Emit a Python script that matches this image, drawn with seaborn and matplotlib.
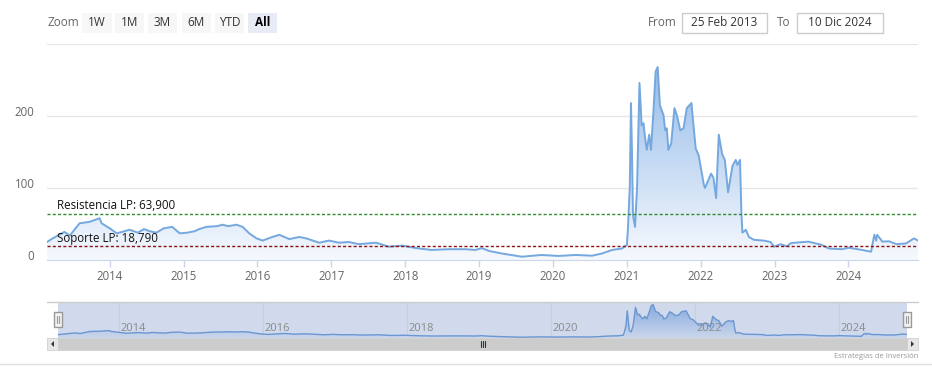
import numpy as np
import pandas as pd
import matplotlib
matplotlib.use("Agg")
import matplotlib.pyplot as plt
import matplotlib.dates as mdates
from matplotlib.patches import Rectangle, Polygon
from matplotlib.colors import LinearSegmentedColormap
from matplotlib.transforms import ScaledTranslation
import seaborn as sns

# price series
dates = [
    "2013-02-25", "2013-03-25", "2013-04-27", "2013-05-22", "2013-06-18", "2013-08-05",
    "2013-09-24", "2013-11-12", "2013-11-22", "2014-01-01", "2014-02-05", "2014-04-09",
    "2014-05-20", "2014-06-20", "2014-07-17", "2014-08-20", "2014-09-25", "2014-11-06",
    "2014-12-13", "2015-01-20", "2015-02-25", "2015-03-20", "2015-04-24", "2015-06-15",
    "2015-07-13", "2015-08-10", "2015-09-20", "2015-10-20", "2015-11-22", "2015-12-28",
    "2016-01-27", "2016-03-15", "2016-04-19", "2016-06-07", "2016-07-26", "2016-08-30",
    "2016-11-02", "2016-12-20", "2017-02-08", "2017-03-28", "2017-05-17", "2017-08-10",
    "2017-10-12", "2017-12-16", "2018-02-24", "2018-05-12", "2018-08-03", "2018-10-25",
    "2018-12-14", "2019-01-15", "2019-02-20", "2019-04-24", "2019-07-31", "2019-11-06",
    "2020-01-29", "2020-04-22", "2020-07-13", "2020-08-30", "2020-10-20", "2020-12-08",
    "2021-01-01", "2021-01-06", "2021-01-15", "2021-01-21", "2021-01-26", "2021-01-31",
    "2021-02-10", "2021-02-20", "2021-03-04", "2021-03-15", "2021-03-24", "2021-04-01",
    "2021-04-09", "2021-04-21", "2021-04-30", "2021-05-12", "2021-05-23", "2021-06-02",
    "2021-06-13", "2021-07-01", "2021-07-09", "2021-07-17", "2021-07-25", "2021-08-08",
    "2021-08-24", "2021-09-05", "2021-09-22", "2021-10-08", "2021-10-24", "2021-11-16",
    "2021-11-22", "2021-12-07", "2021-12-22", "2022-01-16", "2022-01-22", "2022-02-21",
    "2022-03-05", "2022-03-18", "2022-03-31", "2022-04-17", "2022-04-30", "2022-05-16",
    "2022-06-07", "2022-06-23", "2022-07-01", "2022-07-14", "2022-07-21", "2022-07-26",
    "2022-08-12", "2022-08-27", "2022-09-21", "2022-11-08", "2022-12-12", "2022-12-30",
    "2023-01-31", "2023-03-01", "2023-03-25", "2023-04-13", "2023-06-17", "2023-08-22",
    "2023-09-26", "2023-11-28", "2024-01-04", "2024-03-08", "2024-04-22", "2024-05-08",
    "2024-05-17", "2024-05-22", "2024-06-17", "2024-07-20", "2024-08-25", "2024-10-12",
    "2024-11-20", "2024-12-10",
]
prices = [
    25, 30, 35, 39, 34, 51,
    53, 58, 51, 44, 37, 42,
    38, 43, 40, 38, 44, 46,
    37, 38, 40, 43, 46, 47,
    49, 47, 49, 46, 37, 30,
    27, 32, 35, 29, 32, 30,
    24, 27, 24, 25, 22, 24,
    18.5, 20, 16.5, 14, 15, 15,
    14, 16.5, 12.5, 9, 4.6, 7,
    5.6, 7, 6, 9, 14, 16,
    21, 44, 100, 218, 150, 62,
    46, 100, 246, 187, 190, 169,
    153, 174, 153, 206, 262, 268,
    215, 201, 180, 183, 153, 162,
    211, 201, 180, 183, 211, 218,
    199, 155, 145, 105, 100, 120,
    114, 86, 174, 147, 139, 94,
    131, 139, 132, 139, 65, 38,
    42, 32, 28, 27, 25, 18.5,
    22, 19, 23.6, 24, 25.5, 21,
    16, 15, 17, 14, 11.5, 35,
    27, 35, 25.5, 26, 22, 23,
    30, 27,
]

resistance = 63.9
support = 18.79
resistance_label = "Resistencia LP: 63,900"
support_label = "Soporte LP: 18,790"
y_ticks = [0, 100, 200, 300]
y_tick_labels = ["0", "100", "200", ""]
year_ticks = list(range(2014, 2025))
nav_years = [2014, 2016, 2018, 2020, 2022, 2024]
zoom_buttons = ["1W", "1M", "3M", "6M", "YTD", "All"]
date_from = "25 Feb 2013"
date_to = "10 Dic 2024"
credits = "Estrategias de Inversión"

df = pd.DataFrame({"date": pd.to_datetime(dates), "price": prices})

sns.set_style("white")
plt.rcParams["font.family"] = ["Open Sans", "DejaVu Sans"]

W, H = 932, 379
fig = plt.figure(figsize=(W / 100, H / 100), dpi=100)


def box(x0, y0, x1, y1):
    return [x0 / W, 1 - y1 / H, (x1 - x0) / W, (y1 - y0) / H]


line_color = "#74a8df"
grad = LinearSegmentedColormap.from_list("g", ["#f6f9fe", "#96bce9"])
xmin, xmax = df["date"].min(), df["date"].max()
x0n, x1n = mdates.date2num(xmin), mdates.date2num(xmax)


def gradient_area(ax, top):
    fill = ax.fill_between(df["date"], 0, df["price"], color="none", lw=0)
    g = np.linspace(0, 1, 256).reshape(-1, 1)
    im = ax.imshow(g, extent=[x0n, x1n, 0, top], origin="lower", aspect="auto",
                   cmap=grad, zorder=1)
    im.set_clip_path(fill.get_paths()[0], ax.transData)


# main chart
ax = fig.add_axes(box(47, 44, 918, 260))
gradient_area(ax, max(prices))
sns.lineplot(data=df, x="date", y="price", ax=ax, color=line_color, lw=1.4, zorder=3)
ax.axhline(resistance, color="#2e8b2e", ls=(0, (2.2, 1.6)), lw=1, zorder=4)
ax.axhline(support, color="#8b1010", ls=(0, (2.2, 1.6)), lw=1, zorder=4)
ax.text(0.011, resistance + 2.5, resistance_label, transform=ax.get_yaxis_transform(),
        fontsize=8.3, color="#111111", va="bottom", zorder=5)
ax.text(0.011, support + 2.5, support_label, transform=ax.get_yaxis_transform(),
        fontsize=8.3, color="#111111", va="bottom", zorder=5)

ax.set_xlim(xmin, xmax)
ax.set_ylim(0, 300)
ax.set_yticks(y_ticks)
ax.set_yticklabels(y_tick_labels)
ax.set_xticks([pd.Timestamp(f"{y}-01-01") for y in year_ticks])
ax.set_xticklabels([str(y) for y in year_ticks])
ax.set_xlabel("")
ax.set_ylabel("")
ax.grid(axis="y", color="#e6e6e6", lw=1)
ax.grid(axis="x", visible=False)
for s in ["top", "left", "right"]:
    ax.spines[s].set_visible(False)
ax.spines["bottom"].set_color("#ccd6eb")
ax.tick_params(axis="x", length=5, width=1, color="#ccd6eb", pad=2, labelsize=8.3,
               labelcolor="#666666", bottom=True)
ax.tick_params(axis="y", length=0, pad=9, labelsize=8.3, labelcolor="#666666")
for lbl in ax.get_yticklabels():
    lbl.set_transform(lbl.get_transform() + ScaledTranslation(0, 0.045, fig.dpi_scale_trans))

# navigator
nav = fig.add_axes(box(58, 302, 907, 338))
for y in nav_years:
    nav.axvline(pd.Timestamp(f"{y}-01-01"), color="#f0f0f0", lw=1, zorder=0)
gradient_area(nav, max(prices))
sns.lineplot(data=df, x="date", y="price", ax=nav, color="#6d9fd9", lw=1, zorder=3)
nav.set_xlim(xmin, xmax)
nav.set_ylim(-2, 290)
nav.axis("off")
nav.add_patch(Rectangle((0, 0), 1, 1, transform=nav.transAxes, color=(102 / 255, 133 / 255, 194 / 255),
                        alpha=0.3, lw=0, zorder=5))
for y in nav_years:
    nav.text(pd.Timestamp(f"{y}-01-01") + pd.Timedelta(days=8), 0.12, str(y),
             transform=nav.get_xaxis_transform(), fontsize=8, color="#8a8a8a",
             va="bottom", ha="left", zorder=6)

# overlay for the toolbar, scrollbar and credits, in pixel units
ov = fig.add_axes([0, 0, 1, 1], zorder=10)
ov.set_xlim(0, W)
ov.set_ylim(H, 0)
ov.axis("off")
ov.patch.set_alpha(0)

ov.text(48, 22.5, "Zoom", fontsize=8.5, color="#666666", va="center")
btn_x = [(82, 112), (115, 144), (148, 177), (182, 211), (215, 244), (248, 277)]
for (bx0, bx1), name in zip(btn_x, zoom_buttons):
    sel = name == "All"
    ov.add_patch(Rectangle((bx0, 13), bx1 - bx0, 20, color="#e6ebf5" if sel else "#f7f7f7", lw=0))
    ov.text((bx0 + bx1) / 2, 22.5, name, fontsize=8.5, ha="center", va="center",
            color="#000000" if sel else "#333333", fontweight="bold" if sel else "normal")

ov.text(648, 22.5, "From", fontsize=8.5, color="#666666", va="center")
ov.text(777, 22.5, "To", fontsize=8.5, color="#666666", va="center")
for (bx0, bx1), txt in zip([(682, 767), (797, 883)], [date_from, date_to]):
    ov.add_patch(Rectangle((bx0, 13), bx1 - bx0, 20, facecolor="white", edgecolor="#cccccc", lw=1))
    ov.text((bx0 + bx1) / 2, 22.5, txt, fontsize=8.5, ha="center", va="center", color="#333333")

# navigator outline and handles
ov.plot([47, 918], [302, 302], color="#cccccc", lw=1)
for hx in (58, 907):
    ov.add_patch(Rectangle((hx - 4, 312), 8, 15, facecolor="#f2f2f2", edgecolor="#999999", lw=1))
    ov.plot([hx - 1, hx - 1], [316, 323], color="#999999", lw=0.8)
    ov.plot([hx + 1, hx + 1], [316, 323], color="#999999", lw=0.8)

# scrollbar
ov.add_patch(Rectangle((47, 338), 871, 12, color="#f2f2f2", lw=0))
ov.add_patch(Rectangle((58, 338), 849, 12, facecolor="#cccccc", edgecolor="#cccccc", lw=0.5))
for bx in (47, 907):
    ov.add_patch(Rectangle((bx, 338), 11, 12, facecolor="#e6e6e6", edgecolor="#cccccc", lw=0.5))
ov.add_patch(Polygon([[54, 341], [54, 347], [51, 344]], color="#333333", lw=0))
ov.add_patch(Polygon([[911, 341], [911, 347], [914, 344]], color="#333333", lw=0))
for gx in (480.5, 482.5, 484.5):
    ov.plot([gx, gx], [341, 347], color="#333333", lw=0.8)

ov.plot([0, 932], [364, 364], color="#e0e0e0", lw=1)
ov.text(918, 357, credits, fontsize=5.5, color="#999999", ha="right", va="center")

fig.savefig("out.png", dpi=100)
